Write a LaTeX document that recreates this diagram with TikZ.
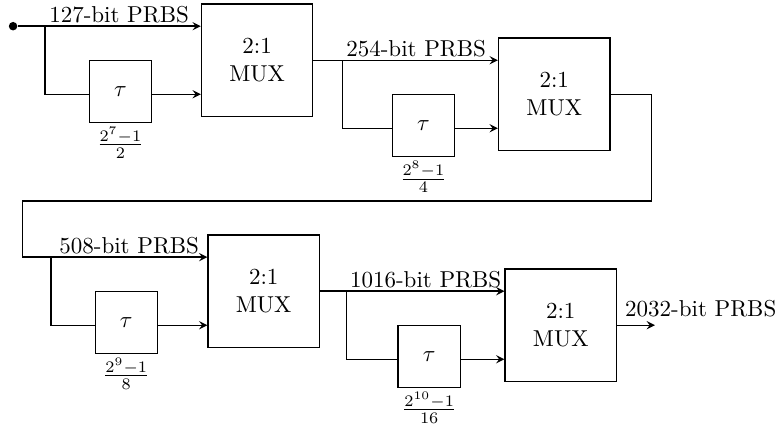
\documentclass[tikz,border=0pt]{standalone}
\usepackage{amsmath}
\usepackage{tikz}
\usetikzlibrary{positioning}

\begin{document}
\begin{tikzpicture}[
    % Node styles
    mux/.style={rectangle, draw, semithick, minimum width=1.7cm, minimum height=1.72cm, align=center},
    delay/.style={rectangle, draw, semithick, minimum size=0.95cm},
    frac/.style={inner sep=1.5pt},
    lbl/.style={above, inner sep=1pt},
    % Edge styles
    line/.style={draw, semithick},
    edge/.style={draw, semithick, -stealth}
]
\useasboundingbox (0,0) rectangle (11.89,-6.54);

% Stage 1
\node[circle, fill, inner sep=0pt, minimum size=0.13cm] (src) at (0.20,-0.40) {};
\coordinate (b1) at (0.69,-0.40);
\coordinate (lo1) at (0.69,-1.44);
\node[mux] (m1) at (3.93,-0.92) {2:1\\MUX};
\node[delay, label={[frac]below:$\frac{2^7-1}{2}$}] (t1) at (1.84,-1.40) {$\tau$};

% Stage 2
\coordinate (b2) at (5.23,-0.92);
\coordinate (lo2) at (5.23,-1.96);
\node[mux] (m2) at (8.47,-1.44) {2:1\\MUX};
\node[delay, label={[frac]below:$\frac{2^8-1}{4}$}] (t2) at (6.47,-1.92) {$\tau$};

% Feedback to next row
\coordinate (fb1) at (9.96,-3.07);
\coordinate (fb2) at (0.34,-3.07);

% Stage 3
\coordinate (b3) at (0.78,-3.93);
\coordinate (lo3) at (0.78,-4.97);
\node[mux] (m3) at (4.03,-4.45) {2:1\\MUX};
\node[delay, label={[frac]below:$\frac{2^9-1}{8}$}] (t3) at (1.93,-4.93) {$\tau$};

% Stage 4
\coordinate (b4) at (5.30,-4.45);
\coordinate (lo4) at (5.30,-5.49);
\node[mux] (m4) at (8.57,-4.97) {2:1\\MUX};
\node[delay, label={[frac]below:$\frac{2^{10}-1}{16}$}] (t4) at (6.56,-5.45) {$\tau$};

% Output
\coordinate (out) at (10.01,-4.97);
\node[anchor=south west] (olbl) at (m4.east) {2032-bit PRBS};

% Draw all edges
\draw[line] (src) -- (b1);
\draw[edge] (b1) -- node[lbl, xshift=-0.06cm] (l1) {127-bit PRBS} (b1 -| m1.west);
\draw[line] (b1) -- (lo1) -- (lo1 -| t1.west);
\draw[edge] (lo1 -| t1.east) -- (lo1 -| m1.west);

\draw[line] (m1.east) -- (b2);
\draw[edge] (b2) -- node[lbl, xshift=-0.06cm] (l2) {254-bit PRBS} (b2 -| m2.west);
\draw[line] (b2) -- (lo2) -- (lo2 -| t2.west);
\draw[edge] (lo2 -| t2.east) -- (lo2 -| m2.west);

\draw[line] (m2.east) -| (fb1) -- (fb2) |- (b3);
\draw[edge] (b3) -- node[lbl] (l3) {508-bit PRBS} (b3 -| m3.west);
\draw[line] (b3) -- (lo3) -- (lo3 -| t3.west);
\draw[edge] (lo3 -| t3.east) -- (lo3 -| m3.west);

\draw[line] (m3.east) -- (b4);
\draw[edge] (b4) -- node[lbl] (l4) {1016-bit PRBS} (b4 -| m4.west);
\draw[line] (b4) -- (lo4) -- (lo4 -| t4.west);
\draw[edge] (lo4 -| t4.east) -- (lo4 -| m4.west);

\draw[edge] (m4.east) -- (out);

\end{tikzpicture}
\end{document}
